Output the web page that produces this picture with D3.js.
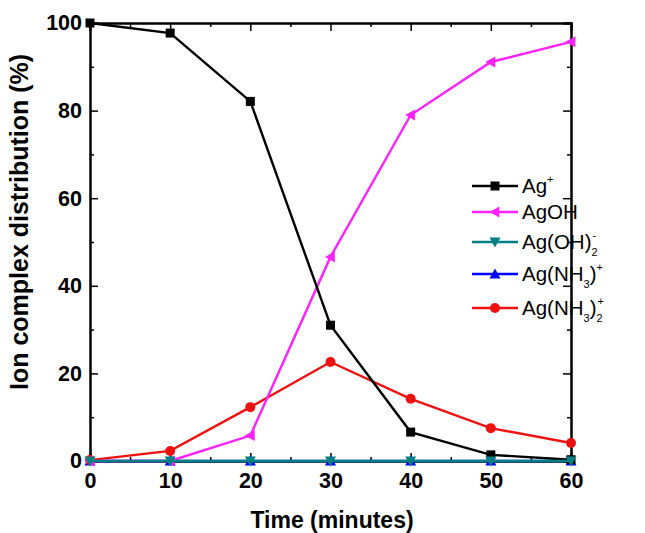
<!DOCTYPE html>
<html><head><meta charset="utf-8">
<script src="https://cdn.jsdelivr.net/npm/d3@7"></script>
<style>body{margin:0;background:#fff}svg{display:block}</style>
</head><body>
<svg id="c" width="645" height="533"></svg>
<script>
const times = [0, 10, 20, 30, 40, 50, 60];
const agPlus = [100, 97.7, 82.1, 31, 6.6, 1.4, 0.3];
const agOH = [0, 0, 5.8, 46.6, 79, 91.1, 95.7];
const agOH2 = [0, 0, 0, 0, 0, 0, 0];
const agNH3 = [0, 0, 0, 0, 0, 0, 0];
const agNH32 = [0.2, 2.3, 12.3, 22.6, 14.2, 7.5, 4.1];
const xTicks = [0, 10, 20, 30, 40, 50, 60];
const yTicks = [0, 20, 40, 60, 80, 100];

const series = [
  {name:"Ag(NH3)+", vals:agNH3, color:"#0000ff", sym:"up"},
  {name:"Ag(NH3)2+", vals:agNH32, color:"#ee1111", sym:"circle"},
  {name:"AgOH", vals:agOH, color:"#ff22ff", sym:"left"},
  {name:"Ag+", vals:agPlus, color:"#000000", sym:"square"},
  {name:"Ag(OH)2-", vals:agOH2, color:"#008080", sym:"down"}
];

const svg = d3.select("#c");
const L = 90, R = 571, T = 23, B = 461;
const x = d3.scaleLinear().domain([0, 60]).range([L, R]);
const y = d3.scaleLinear().domain([0, 100]).range([B, T]);

function marker(g, sym, cx, cy, color, s) {
  s = s || 1;
  if (sym === "square") {
    g.append("rect").attr("x", cx-4.5*s).attr("y", cy-4.5*s).attr("width", 9*s).attr("height", 9*s).attr("fill", color);
  } else if (sym === "circle") {
    g.append("circle").attr("cx", cx).attr("cy", cy).attr("r", 5*s).attr("fill", color);
  } else {
    const r = 5.5*s;
    let pts;
    if (sym === "left") pts = [[cx-r, cy],[cx+r*0.8, cy-r],[cx+r*0.8, cy+r]];
    if (sym === "up") pts = [[cx, cy-r],[cx-r, cy+r*0.8],[cx+r, cy+r*0.8]];
    if (sym === "down") pts = [[cx, cy+r],[cx-r, cy-r*0.8],[cx+r, cy-r*0.8]];
    g.append("polygon").attr("points", pts.map(p=>p.join(",")).join(" ")).attr("fill", color);
  }
}

const font = "'Liberation Sans', Arial, sans-serif";
const xAxisB = d3.axisBottom(x).tickValues(xTicks).tickSize(-8).tickPadding(12).tickFormat(d3.format("d"));
const xMinor = d3.axisBottom(x).tickValues(d3.range(5, 60, 10)).tickSize(-4).tickFormat("");
const yAxisL = d3.axisLeft(y).tickValues(yTicks).tickSize(-8).tickPadding(8).tickFormat(d3.format("d"));
const yMinor = d3.axisLeft(y).tickValues(d3.range(10, 100, 20)).tickSize(-4).tickFormat("");

function styleAxis(g) {
  g.selectAll("path").attr("stroke", "#000").attr("stroke-width", 2);
  g.selectAll("line").attr("stroke", "#000").attr("stroke-width", 1.5);
  g.selectAll("text").attr("font-family", font).attr("font-weight", "bold").attr("font-size", 21.5).attr("fill", "#000");
}

svg.append("g").attr("transform", `translate(0,${B})`).call(xAxisB).call(styleAxis);
svg.append("g").attr("transform", `translate(0,${B})`).call(xMinor).call(styleAxis);
svg.append("g").attr("transform", `translate(${L},0)`).call(yAxisL).call(styleAxis);
svg.append("g").attr("transform", `translate(${L},0)`).call(yMinor).call(styleAxis);
svg.append("g").attr("transform", `translate(0,${T})`).call(d3.axisTop(x).tickValues(xTicks).tickSize(-8).tickFormat("")).call(styleAxis);
svg.append("g").attr("transform", `translate(0,${T})`).call(d3.axisTop(x).tickValues(d3.range(5, 60, 10)).tickSize(-4).tickFormat("")).call(styleAxis);
svg.append("g").attr("transform", `translate(${R},0)`).call(d3.axisRight(y).tickValues(yTicks).tickSize(-8).tickFormat("")).call(styleAxis);
svg.append("g").attr("transform", `translate(${R},0)`).call(d3.axisRight(y).tickValues(d3.range(10, 100, 20)).tickSize(-4).tickFormat("")).call(styleAxis);

const line = d3.line().x(d => x(d[0])).y(d => y(d[1]));
series.forEach(s => {
  const g = svg.append("g");
  const pts = times.map((t, i) => [t, s.vals[i]]);
  g.append("path").attr("d", line(pts)).attr("fill", "none").attr("stroke", s.color).attr("stroke-width", 2.4);
  pts.forEach(p => marker(g, s.sym, x(p[0]), y(p[1]), s.color));
});

// legend
const leg = [
  {color:"#000000", sym:"square"},
  {color:"#ff22ff", sym:"left"},
  {color:"#008080", sym:"down"},
  {color:"#0000ff", sym:"up"},
  {color:"#ee1111", sym:"circle"}
];
const legY = [186, 212, 242, 274, 308];
const lg = svg.append("g");
leg.forEach((d, i) => {
  const yy = legY[i];
  lg.append("line").attr("x1", 472).attr("x2", 518).attr("y1", yy).attr("y2", yy).attr("stroke", d.color).attr("stroke-width", 2.4);
  marker(lg, d.sym, 495, yy, d.color);
  const t = lg.append("text").attr("x", 522).attr("y", yy + 7).attr("font-family", font).attr("font-size", 20.5).attr("fill", "#000");
  if (i === 0) {
    t.append("tspan").text("Ag");
    t.append("tspan").attr("dy", -10).attr("font-size", 11).text("+");
  } else if (i === 1) {
    t.text("AgOH");
  } else if (i === 2) {
    t.append("tspan").text("Ag(OH)");
    t.append("tspan").attr("dy", 7).attr("font-size", 11).text("2");
    t.append("tspan").attr("dy", -17).attr("dx", -5).attr("font-size", 11).text("-");
  } else if (i === 3) {
    t.append("tspan").text("Ag(NH");
    t.append("tspan").attr("dy", 7).attr("font-size", 11).text("3");
    t.append("tspan").attr("dy", -7).text(")");
    t.append("tspan").attr("dy", -10).attr("font-size", 11).text("+");
  } else {
    t.append("tspan").text("Ag(NH");
    t.append("tspan").attr("dy", 7).attr("font-size", 11).text("3");
    t.append("tspan").attr("dy", -7).text(")");
    t.append("tspan").attr("dy", 7).attr("font-size", 11).text("2");
    t.append("tspan").attr("dy", -17).attr("dx", -5).attr("font-size", 11).text("+");
  }
});

// titles
svg.append("text").attr("x", 332).attr("y", 528).attr("text-anchor", "middle")
  .attr("font-family", font).attr("font-weight", "bold").attr("font-size", 23).text("Time (minutes)");
svg.append("text").attr("transform", "translate(28,222) rotate(-90)").attr("text-anchor", "middle")
  .attr("font-family", font).attr("font-weight", "bold").attr("font-size", 25).text("Ion complex distribution (%)");
</script>
</body></html>
